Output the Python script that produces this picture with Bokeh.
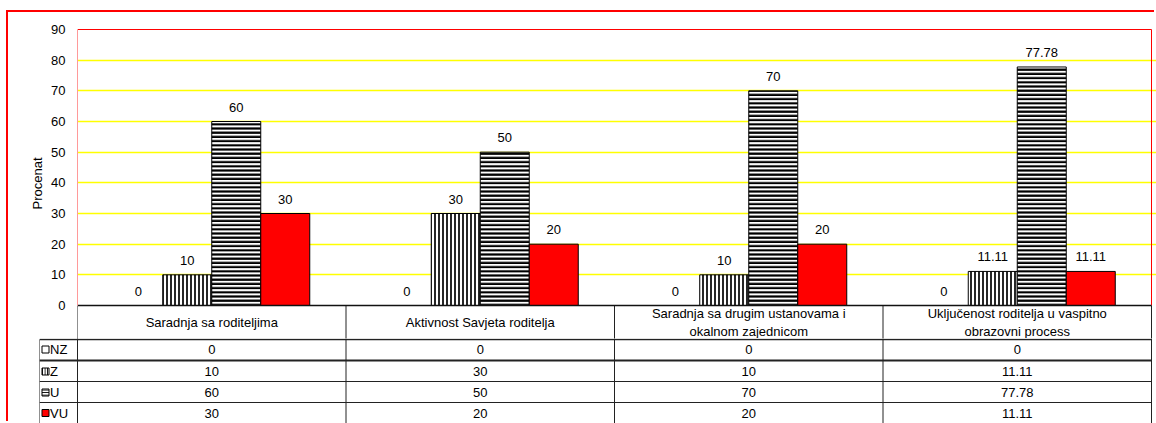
from bokeh.plotting import figure
from bokeh.models import Range1d, FixedTicker, ColumnDataSource
from bokeh.layouts import column
from bokeh.transform import dodge
from bokeh.core.properties import value
from bokeh.embed import file_html
from bokeh.resources import INLINE

# ---------------- data ----------------
categories = [
    "Saradnja sa roditeljima",
    "Aktivnost Savjeta roditelja",
    "Saradnja sa drugim ustanovama i\nokalnom zajednicom",
    "Uključenost roditelja u vaspitno\nobrazovni process",
]
series = ["NZ", "Z", "U", "VU"]
nz = [0, 0, 0, 0]
z = [10, 30, 10, 11.11]
u = [60, 50, 70, 77.78]
vu = [30, 20, 20, 11.11]
y_ticks = [0, 10, 20, 30, 40, 50, 60, 70, 80, 90]
grid_ticks = [10, 20, 30, 40, 50, 60, 70, 80]
y_label = "Procenat"

# ---------------- layout constants ----------------
FONT = "Liberation Sans"
FS = "13px"
W = 1148
PXU = 1074 / 4.0            # px per category unit
KY = 276 / 90.0             # px per percent
BAR_W = 49 / PXU
LEG_W = 38 / PXU
X_END = 4 + 5 / PXU
HEAD_PX = 33                # header row height shown in the chart figure
Y_BELOW = -HEAD_PX / KY
Y_ABOVE = 90 + 1 / KY


def fmt(v):
    return f"{v:g}"


n = len(categories)
values = {"NZ": nz, "Z": z, "U": u, "VU": vu}
data = dict(cat=categories, xc=[i + 0.5 for i in range(n)])
for s in series:
    data[s] = values[s]
    data[s + "_lbl"] = [fmt(v) for v in values[s]]
src = ColumnDataSource(data)

bar_styles = {
    "NZ": dict(fill_color="white"),
    "Z": dict(fill_color="white", hatch_pattern="vertical_line", hatch_color="black",
              hatch_scale=4, hatch_weight=1.7),
    "U": dict(fill_color="white", hatch_pattern="horizontal_line", hatch_color="black",
              hatch_scale=4.2, hatch_weight=2.2),
    "VU": dict(fill_color="#ff0000"),
}

# ---------------- chart (with the table's header row) ----------------
p1 = figure(width=W, height=326,
            x_range=Range1d(0, X_END), y_range=Range1d(Y_BELOW, Y_ABOVE),
            x_axis_location=None,
            output_backend="svg", toolbar_location=None,
            min_border_left=69, min_border_right=0, min_border_top=16, min_border_bottom=0,
            outline_line_color=None)
p1.background_fill_color = "white"
p1.border_fill_color = "white"

ax = p1.yaxis[0]
ax.ticker = FixedTicker(ticks=y_ticks)
ax.bounds = (0, 90)
ax.major_tick_line_color = None
ax.minor_tick_line_color = None
ax.axis_line_color = "#ff9a9a"
ax.major_label_text_font = FONT
ax.major_label_text_font_size = FS
ax.major_label_text_color = "black"
ax.major_label_standoff = 6
ax.axis_label = y_label
ax.axis_label_text_font = FONT
ax.axis_label_text_font_size = FS
ax.axis_label_text_font_style = "normal"
ax.axis_label_text_color = "black"
ax.axis_label_standoff = 3

p1.xgrid.visible = False
p1.ygrid.ticker = FixedTicker(ticks=grid_ticks)
p1.ygrid.grid_line_color = "#ffff00"
p1.ygrid.grid_line_width = 1.6

# plot-area border: top and right in red
p1.segment(x0=[0], y0=[90], x1=[n], y1=[90], line_color="#ff0000", line_width=1)
p1.segment(x0=[n], y0=[0], x1=[n], y1=[90], line_color="#ff0000", line_width=1)

offsets = [-1.5 * BAR_W, -0.5 * BAR_W, 0.5 * BAR_W, 1.5 * BAR_W]
for s, off in zip(series, offsets):
    p1.vbar(x=dodge("xc", off), top=s, width=BAR_W, source=src,
            line_color="black", line_width=1, **bar_styles[s])
    p1.text(x=dodge("xc", off), y=s, text=s + "_lbl", source=src,
            text_align="center", text_baseline="bottom", y_offset=-10,
            text_font=value(FONT), text_font_size=FS, text_color="black")

# header row of the data table
vx = list(range(n + 1))
p1.segment(x0=vx, y0=[Y_BELOW] * len(vx), x1=vx, y1=[0] * len(vx), line_color="#222222", line_width=1)
p1.segment(x0=[0], y0=[0], x1=[n], y1=[0], line_color="#111111", line_width=1.5)
p1.text(x=data["xc"], y=[-17 / KY] * n, text=categories, text_align="center",
        text_baseline="middle", text_font=value(FONT), text_font_size=FS,
        text_color="black", text_line_height=1.2)

# ---------------- data table rows ----------------
# y in pixels below the table top
p2 = figure(width=W, height=85,
            x_range=Range1d(-LEG_W, X_END), y_range=Range1d(118, HEAD_PX),
            x_axis_location=None, y_axis_location=None,
            output_backend="svg", toolbar_location=None,
            min_border_left=31, min_border_right=0, min_border_top=0, min_border_bottom=0,
            outline_line_color=None)
p2.grid.visible = False
p2.background_fill_color = "white"
p2.border_fill_color = "white"

row_edges = [34, 55, 76, 97]
row_centers = [44, 66, 87, 107.5]

p2.segment(x0=vx, y0=[0] * len(vx), x1=vx, y1=[130] * len(vx), line_color="#222222", line_width=1)
p2.segment(x0=[-LEG_W], y0=[row_edges[0]], x1=[-LEG_W], y1=[130], line_color="#222222", line_width=1)
p2.segment(x0=[-LEG_W] * len(row_edges), y0=row_edges, x1=[n] * len(row_edges), y1=row_edges,
           line_color="#222222", line_width=[1.5, 2, 1, 1])

for s, yc in zip(series, row_centers):
    p2.text(x=data["xc"], y=[yc] * n, text=data[s + "_lbl"], text_align="center",
            text_baseline="middle", text_font=value(FONT), text_font_size=FS, text_color="black")

mk_x = -LEG_W + 6 / PXU
tx_x = -LEG_W + 10.5 / PXU
for s, yc in zip(series, row_centers):
    st = dict(bar_styles[s])
    if "hatch_scale" in st:
        st["hatch_scale"] = 2.5
        st["hatch_weight"] = 1.2
    p2.scatter(x=[mk_x], y=[yc], marker="square", size=7, line_color="black", line_width=1, **st)
    p2.text(x=[tx_x], y=[yc], text=[s], text_align="left", text_baseline="middle",
            text_font=value(FONT), text_font_size=FS, text_color="black")

layout = column(p1, column(p2), spacing=0,
                styles={"margin-left": "8px", "margin-top": "12px",
                        "box-shadow": "-2px -2px 0 0 #ff0000"})

open("out.html", "w").write(file_html(layout, INLINE))
